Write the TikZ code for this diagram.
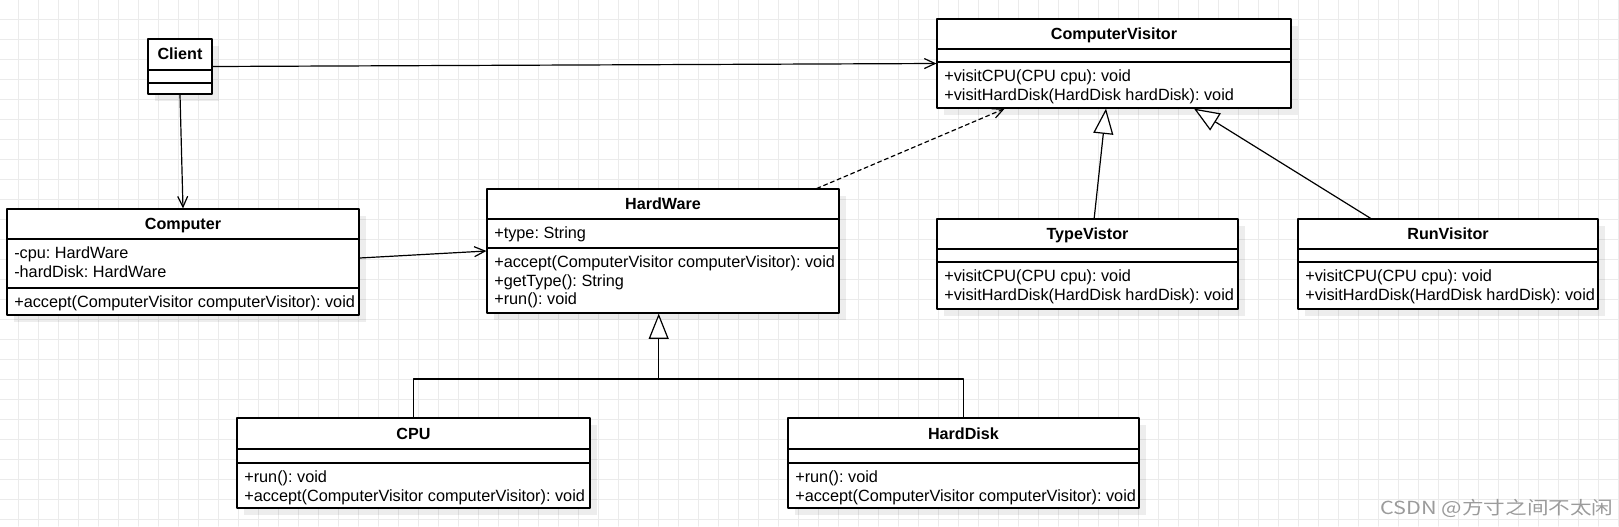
\documentclass[tikz,border=0pt]{standalone}
\usepackage{fontspec}
\setmainfont{Liberation Sans}
\newfontfamily\cjkfont{Noto Sans CJK SC}
\usetikzlibrary{arrows.meta}
\usetikzlibrary{shadows}
\usetikzlibrary{fit}
\definecolor{gridgray}{RGB}{235,235,235}
\definecolor{markgray}{RGB}{155,155,155}
\frenchspacing

\begin{document}
\begin{tikzpicture}[line cap=round, line join=round, x=0.75pt, y=-0.75pt,
  classbox/.style={draw, fill=white, line width=0.9pt, inner sep=0pt,
    drop shadow={shadow xshift=5pt, shadow yshift=-5pt, fill=black, opacity=0.07}},
  classname/.style={font=\fontsize{12.1pt}{14pt}\selectfont\bfseries, inner sep=0pt, anchor=base},
  member/.style={font=\fontsize{12.2pt}{14pt}\selectfont, align=left, inner sep=0pt, anchor=north west},
  assoc/.style={line width=0.9pt, -{Straight Barb[length=8pt, width=7.5pt]}},
  depend/.style={assoc, dash pattern=on 3pt off 2.5pt},
  inherit/.style={line width=0.9pt, -{Triangle[length=19pt, width=15pt, fill=white]}}]
\useasboundingbox (0,0) rectangle (1619,526);
\fill[white] (0,0) rectangle (1619,526);
\foreach \gx in {18.3,38.3,...,1619} \draw[gridgray, line width=0.75pt] (\gx,0) -- (\gx,526);
\foreach \gy in {19.3,39.3,...,526} \draw[gridgray, line width=0.75pt] (0,\gy) -- (1619,\gy);

% Client
\node[classbox, fit={(148,39) (212,94)}] (client) {};
\draw[line width=0.9pt] (148,70) -- (212,70) (148,83) -- (212,83);
\node[classname] (client-name) at (180,59.5) {Client};

% ComputerVisitor
\node[classbox, fit={(937,19) (1291,108)}] (cv) {};
\draw[line width=0.9pt] (937,49) -- (1291,49) (937,62) -- (1291,62);
\node[classname] (cv-name) at (1114,39.6) {ComputerVisitor};
\node[member] (cv-ops) at (944,69.5) {+visitCPU(CPU cpu): void\\+visitHardDisk(HardDisk hardDisk): void};

% Computer
\node[classbox, fit={(7,209) (359,315)}] (computer) {};
\draw[line width=0.9pt] (7,239) -- (359,239) (7,288) -- (359,288);
\node[classname] (computer-name) at (183,229.6) {Computer};
\node[member] (computer-attr) at (14,246.5) {-cpu: HardWare\\-hardDisk: HardWare};
\node[member] (computer-ops) at (14,295.5) {+accept(ComputerVisitor computerVisitor): void};

% HardWare
\node[classbox, fit={(487,189) (839,313)}] (hardware) {};
\draw[line width=0.9pt] (487,219) -- (839,219) (487,248) -- (839,248);
\node[classname] (hardware-name) at (663,209.6) {HardWare};
\node[member] (hardware-attr) at (494,226.5) {+type: String};
\node[member] (hardware-ops) at (494,255.5) {+accept(ComputerVisitor computerVisitor): void\\+getType(): String\\+run(): void};

% TypeVistor
\node[classbox, fit={(937,219) (1238,309)}] (typevisitor) {};
\draw[line width=0.9pt] (937,249) -- (1238,249) (937,262) -- (1238,262);
\node[classname] (typevisitor-name) at (1087.5,239.6) {TypeVistor};
\node[member] (typevisitor-ops) at (944,269.5) {+visitCPU(CPU cpu): void\\+visitHardDisk(HardDisk hardDisk): void};

% RunVisitor
\node[classbox, fit={(1298,219) (1598,309)}] (runvisitor) {};
\draw[line width=0.9pt] (1298,249) -- (1598,249) (1298,262) -- (1598,262);
\node[classname] (runvisitor-name) at (1448,239.6) {RunVisitor};
\node[member] (runvisitor-ops) at (1305,269.5) {+visitCPU(CPU cpu): void\\+visitHardDisk(HardDisk hardDisk): void};

% CPU
\node[classbox, fit={(237,418) (590,508)}] (cpu) {};
\draw[line width=0.9pt] (237,449) -- (590,449) (237,463) -- (590,463);
\node[classname] (cpu-name) at (413.5,439.1) {CPU};
\node[member] (cpu-ops) at (244,470.5) {+run(): void\\+accept(ComputerVisitor computerVisitor): void};

% HardDisk
\node[classbox, fit={(788,418) (1139,508)}] (harddisk) {};
\draw[line width=0.9pt] (788,449) -- (1139,449) (788,463) -- (1139,463);
\node[classname] (harddisk-name) at (963.5,439.1) {HardDisk};
\node[member] (harddisk-ops) at (795,470.5) {+run(): void\\+accept(ComputerVisitor computerVisitor): void};

% relations
\draw[assoc] (client.east) -- (cv.west);
\draw[assoc] (client.south) -- (computer.north);
\draw[assoc] ([yshift=3pt]computer.east) -- (hardware.west);
\draw[depend] ([xshift=-17pt]hardware.north east) -- ([xshift=-82pt]cv.south);
\draw[inherit] ([xshift=5pt]typevisitor.north) -- ([xshift=-6pt]cv.south);
\draw[inherit] ([xshift=-58pt]runvisitor.north) -- ([xshift=60pt]cv.south);
\coordinate (bus) at (658.7,379);
\draw[line width=0.9pt] (cpu.north) |- (bus);
\draw[line width=0.9pt] (harddisk.north) |- (bus);
\draw[inherit] (bus) -- (bus |- hardware.south);

\node[text=markgray, font=\cjkfont\fontsize{13.5pt}{15pt}\selectfont, xscale=1.2, transform shape] (mark) at (1497,508) {CSDN @方寸之间不太闲};
\end{tikzpicture}
\end{document}
